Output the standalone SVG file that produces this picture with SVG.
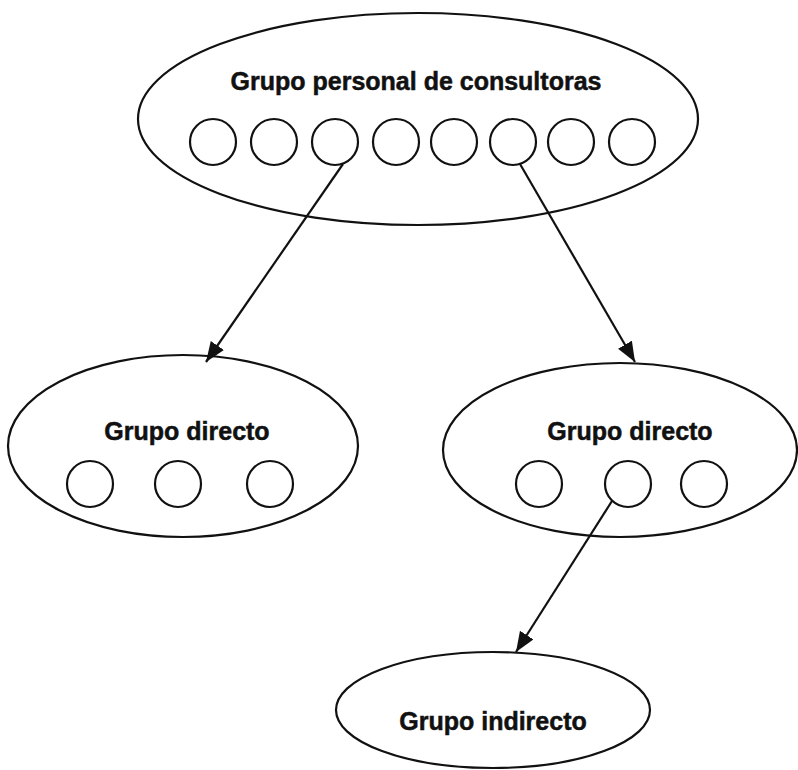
<svg xmlns="http://www.w3.org/2000/svg" width="798" height="770" viewBox="0 0 798 770">
  <style>
    .shape { fill: none; stroke: #111; stroke-width: 2.2; }
    .member { fill: #fff; stroke: #111; stroke-width: 2.2; }
    .label { font-family: "Liberation Sans", Arial, sans-serif; font-weight: bold; font-size: 25px; fill: #111; stroke: #111; stroke-width: 0.5; text-anchor: middle; }
    .conn { stroke: #111; stroke-width: 2.2; fill: none; marker-end: url(#arrow); }
  </style>
  <defs>
    <marker id="arrow" markerUnits="userSpaceOnUse" markerWidth="22" markerHeight="18" refX="20" refY="8" orient="auto">
      <path d="M0,0 L20,8 L0,16 z" fill="#111"/>
    </marker>
  </defs>
  <rect width="798" height="770" fill="#fff"/>

  <g id="grupo-personal">
    <ellipse class="shape" cx="418" cy="119" rx="280" ry="106"/>
    <text class="label" x="416" y="90">Grupo personal de consultoras</text>
    <circle class="member" cx="213" cy="142" r="23"/>
    <circle class="member" cx="274" cy="142" r="23"/>
    <circle class="member" cx="335" cy="142" r="23"/>
    <circle class="member" cx="396" cy="142" r="23"/>
    <circle class="member" cx="454" cy="142" r="23"/>
    <circle class="member" cx="513" cy="142" r="23"/>
    <circle class="member" cx="571" cy="142" r="23"/>
    <circle class="member" cx="632" cy="142" r="23"/>
  </g>

  <g id="grupo-directo-1">
    <ellipse class="shape" cx="183" cy="446" rx="175" ry="91"/>
    <text class="label" x="187" y="440">Grupo directo</text>
    <circle class="member" cx="90" cy="484" r="23"/>
    <circle class="member" cx="178" cy="484" r="23"/>
    <circle class="member" cx="270" cy="484" r="23"/>
  </g>

  <g id="grupo-directo-2">
    <ellipse class="shape" cx="620" cy="450" rx="177" ry="87"/>
    <text class="label" x="630" y="440">Grupo directo</text>
    <circle class="member" cx="539" cy="484" r="23"/>
    <circle class="member" cx="628" cy="484" r="23"/>
    <circle class="member" cx="704" cy="484" r="23"/>
  </g>

  <g id="grupo-indirecto">
    <ellipse class="shape" cx="493" cy="710" rx="157" ry="58"/>
    <text class="label" x="493" y="730">Grupo indirecto</text>
  </g>

  <g id="connectors">
    <line class="conn" x1="343" y1="164" x2="206" y2="362"/>
    <line class="conn" x1="520" y1="164" x2="635" y2="362"/>
    <line class="conn" x1="612" y1="501" x2="516" y2="652"/>
  </g>
</svg>
